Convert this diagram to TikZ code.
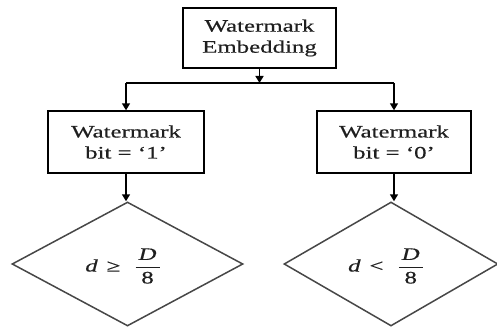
\documentclass[tikz,border=0pt]{standalone}
\usepackage{fontspec}
\setmainfont{Liberation Serif}[FakeStretch=1.42,FakeBold=0.5]
\usetikzlibrary{shapes.geometric,arrows.meta}

\newcommand{\ratio}[1]{%
  $\displaystyle\mbox{\itshape d}\hspace{9pt}\mbox{#1}\hspace{14pt}
   \frac{\mbox{\hspace{3pt}\itshape D\hspace{3pt}}}{\mbox{8}}$}

\tikzset{
  every picture/.style={x=1pt,y=1pt},
  txt/.style={font=\fontsize{17.5}{21}\selectfont, text=black!88, align=center},
  procbox/.style={txt, draw=black, line width=1.4pt, inner sep=0pt},
  decision/.style={txt, diamond, draw=black!72, line width=1.5pt, inner sep=0pt},
  link/.style={draw=black, line width=1.5pt},
  flow/.style={link, -{Triangle[length=7pt,width=8pt]}}
}

\begin{document}
\begin{tikzpicture}
  % canvas
  \fill[white] (0,0) rectangle (497,-331);
  \useasboundingbox (0,0) rectangle (497,-331);

  % process boxes
  \node[procbox, minimum width=153pt, minimum height=60pt] (embed) at (259.5,-38) {Watermark\\Embedding};
  \node[procbox, minimum width=156pt, minimum height=62pt] (bitone) at (126,-142) {Watermark\\bit = ‘1’};
  \node[procbox, minimum width=154pt, minimum height=62pt] (bitzero) at (394,-142) {Watermark\\bit = ‘0’};

  % decisions
  \node[decision, minimum width=231pt, minimum height=124pt] (geq) at (127.5,-264) {};
  \node[decision, minimum width=214pt, minimum height=124pt] (lt) at (391,-264) {};
  \node[txt] (geqtext) at (123,-266) {\ratio{≥}};
  \node[txt] (lttext) at (386,-266) {\ratio{<}};

  % branching bus
  \coordinate (busL) at (bitone.north |- 0,-83);
  \coordinate (busR) at (bitzero.north |- 0,-83);
  \draw[link] (busL) -- (busR);
  \draw[flow] (embed.south) -- (embed.south |- busL);
  \draw[flow] (busL) -- (bitone.north);
  \draw[flow] (busR) -- (bitzero.north);

  % into the decisions
  \draw[flow] (bitone.south) -- (bitone.south |- geq.north);
  \draw[flow] (bitzero.south) -- (bitzero.south |- lt.north);
\end{tikzpicture}
\end{document}
